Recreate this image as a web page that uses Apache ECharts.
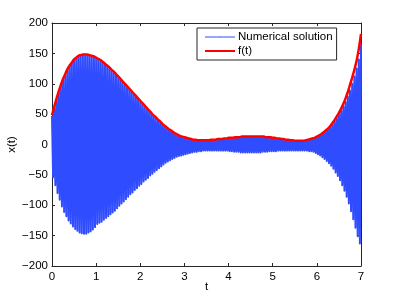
<!DOCTYPE html>
<html>
<head>
<meta charset="utf-8">
<script src="https://cdn.jsdelivr.net/npm/echarts@6/dist/echarts.min.js"></script>
<style>html,body{margin:0;padding:0;background:#fff}#c{width:399px;height:299px}</style>
</head>
<body>
<div id="c"></div>
<script>
// time step between samples of the envelope readings
var fStep = 0.05;
// f(t): red envelope, read at t = 0, 0.05, ..., 7
var fVals = [
  48,62,75,87,98,108,116,124,130,135,140,143,146,147,148,148,148,147,146,145,
  143,141,139,136,133,130,127,123,120,116,112,108,104,100,96,92,88,84,80,76,
  72,68,64,60,56,52,48,45,41,38,34,31,28,25,23,20,18,16,14,13,
  12,11,10,9,8,8,7,7,7,7,7,7,8,8,8,9,9,9,10,10,
  11,11,11,12,12,12,13,13,13,13,13,13,13,13,13,13,13,12,12,12,
  11,11,10,10,9,9,8,8,7,7,6,6,6,6,6,7,8,9,10,11,
  13,15,17,20,23,26,30,35,40,46,52,59,67,76,86,98,110,123,138,157,
  182
];
// Numerical solution: local maxima at t = 0, 0.05, ..., 7
var numUpper = [
  47,60,73,85,96,106,114,122,128,133,138,141,144,145,146,146,146,145,144,143,
  141,139,137,134,131,128,125,121,118,114,110,106,102,98,94,90,86,82,78,74,
  70,66,62,58,54,50,47,43,40,36,33,30,27,24,22,19,17,15,13,12,
  11,10,9,8,7,7,6,6,6,6,6,6,7,7,7,8,8,8,9,9,
  10,10,10,11,11,11,12,12,12,12,12,12,12,12,12,12,12,11,11,11,
  10,10,9,9,8,8,7,7,6,6,5,5,5,5,5,6,7,8,9,10,
  12,14,16,19,22,25,29,33,38,43,49,55,62,70,79,89,100,112,125,140,
  165
];
// Numerical solution: local minima at t = 0.025, 0.075, ..., 6.975
var numLower = [
  -54,-67,-80,-91,-102,-111,-118,-125,-130,-135,-139,-142,-145,-146,-147,-147,-145,-143,-140,-136,
  -131,-129,-127,-124,-121,-118,-115,-112,-109,-105,-101,-97,-94,-90,-86,-82,-79,-75,-72,-68,
  -65,-61,-58,-55,-51,-48,-45,-42,-39,-36,-33,-30,-28,-26,-24,-22,-20,-19,-18,-17,
  -16,-15,-14,-13,-12,-12,-11,-11,-10,-10,-10,-10,-10,-10,-10,-10,-10,-10,-10,-10,
  -11,-11,-12,-12,-12,-13,-13,-13,-13,-13,-13,-13,-13,-13,-13,-12,-12,-12,-11,-11,
  -11,-11,-10,-10,-10,-10,-10,-10,-10,-10,-10,-10,-10,-10,-10,-10,-11,-11,-12,-14,
  -16,-18,-21,-24,-27,-31,-35,-40,-46,-52,-59,-67,-76,-86,-97,-110,-123,-137,-151,-163
];
var xTicks = [0,1,2,3,4,5,6,7];
var yTicks = [-200,-150,-100,-50,0,50,100,150,200];
var seriesNames = ['Numerical solution','f(t)'];
var xName = 't', yName = 'x(t)';

var fData = fVals.map(function(v,i){ return [+(i*fStep).toFixed(3), v]; });
var numData = [];
for (var i = 0; i < numUpper.length; i++) {
  numData.push([+(i*fStep).toFixed(3), numUpper[i]]);
  if (i < numLower.length) numData.push([+(i*fStep + fStep/2).toFixed(4), numLower[i]]);
}

var font = 'Liberation Sans, Arial, Helvetica, sans-serif';
var axCol = '#262626';
var blue = '#2f4cff';
function minus(v){ return String(v).replace('-', '\u2212'); }

var chart = echarts.init(document.getElementById('c'), null, {renderer:'canvas'});
var baseX = {
  type:'value', min:xTicks[0], max:xTicks[xTicks.length-1], interval:1,
  axisLine:{show:true, onZero:false, lineStyle:{color:axCol,width:1}},
  axisTick:{show:true, inside:true, length:3, lineStyle:{color:axCol}},
  splitLine:{show:false}
};
var baseY = {
  type:'value', min:yTicks[0], max:yTicks[yTicks.length-1], interval:50,
  axisLine:{show:true, onZero:false, lineStyle:{color:axCol,width:1}},
  axisTick:{show:true, inside:true, length:3, lineStyle:{color:axCol}},
  splitLine:{show:false}
};
chart.setOption({
  animation:false,
  backgroundColor:'#fff',
  grid:{left:52, right:38, top:23, bottom:33, containLabel:false, outerBoundsMode:'none'},
  textStyle:{fontFamily:font},
  legend:{
    show:true, orient:'vertical', left:197, top:28,
    data:[{name:seriesNames[0], lineStyle:{width:1}}, {name:seriesNames[1]}],
    itemWidth:30, itemHeight:1, itemGap:2,
    padding:[3,4,3,7], backgroundColor:'#fff',
    borderColor:axCol, borderWidth:1, borderRadius:0,
    textStyle:{fontFamily:font, fontSize:11.5, color:'#000', padding:[0,0,0,-2]}
  },
  xAxis:[
    Object.assign({}, baseX, {position:'bottom', name:xName, nameLocation:'middle', nameGap:15,
      nameMoveOverlap:false,
      nameTextStyle:{fontFamily:font, fontSize:11.5, color:'#000'},
      axisLabel:{show:true, margin:5, fontFamily:font, fontSize:11.5, color:'#000', formatter:minus}}),
    Object.assign({}, baseX, {position:'top', axisLabel:{show:false}})
  ],
  yAxis:[
    Object.assign({}, baseY, {position:'left', name:yName, nameLocation:'middle', nameGap:34,
      nameMoveOverlap:false,
      nameTextStyle:{fontFamily:font, fontSize:11.5, color:'#000'},
      axisLabel:{show:true, margin:4, fontFamily:font, fontSize:11.5, color:'#000', formatter:minus}}),
    Object.assign({}, baseY, {position:'right', axisLabel:{show:false}})
  ],
  series:[
    {name:seriesNames[0], type:'line', data:numData, symbol:'none', showSymbol:false,
     sampling:null, lineStyle:{color:blue, width:2, join:'round'}, itemStyle:{color:blue}, z:2},
    {name:seriesNames[1], type:'line', data:fData, symbol:'none', showSymbol:false,
     smooth:0.2, lineStyle:{color:'#ff0000', width:2.5}, itemStyle:{color:'#ff0000'}, z:3}
  ]
});
</script>
</body>
</html>
